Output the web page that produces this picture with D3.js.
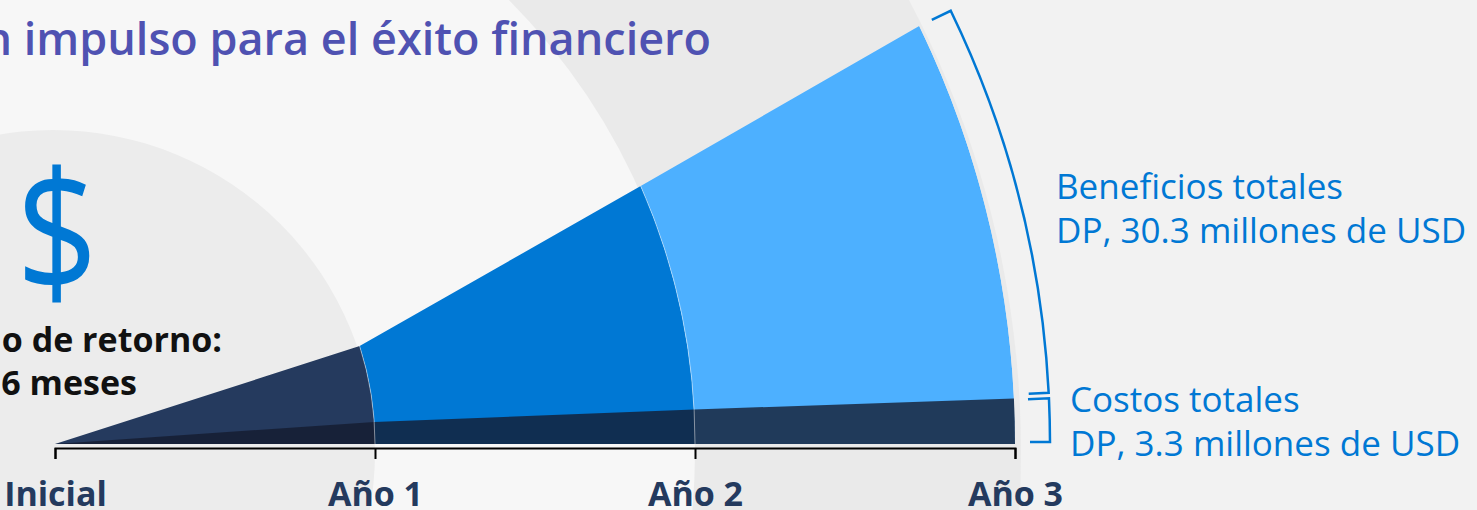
<!DOCTYPE html>
<html>
<head>
<meta charset="utf-8">
<script src="https://cdn.jsdelivr.net/npm/d3@7"></script>
<style>
  html, body { margin: 0; padding: 0; background: #f2f2f2; overflow: hidden; }
  text { font-family: "Open Sans", "Noto Sans", sans-serif; }
</style>
</head>
<body>
<div id="chart"></div>
<script>
// data (millones de USD, valor presente, acumulado)
const years = ["Inicial", "Año 1", "Año 2", "Año 3"]
const benefits = [0, 7.1, 18.7, 30.3]
const costs = [0, 1.6, 2.5, 3.3]
const bandColors = ["#253a5e", "#0078d4", "#4db0ff"]

const W = 1477, H = 510
const cx = 55, cy = 444   // apex of the wedge

const svg = d3.select("#chart").append("svg")
  .attr("width", W)
  .attr("height", H)

svg.append("rect").attr("width", W).attr("height", H).attr("fill", "#f2f2f2")

// background rings
const rings = [[968, "#eaeaea"], [642, "#f7f7f7"], [322, "#ececec"]]
svg.selectAll("circle.bg")
  .data(rings)
  .enter().append("circle")
  .attr("class", "bg")
  .attr("cx", 53).attr("cy", 452)
  .attr("r", d => d[0])
  .attr("fill", d => d[1])

// SCALES
const x = d3.scalePoint().domain(years).range([cx, cx + 960])
const rad = yr => x(yr) - cx
const hgt = d3.scaleLinear().domain([0, 30.3]).range([0, 418])

// point on the year's circle at the value's height
function pt(yr, v) {
  const r = rad(yr), h = hgt(v)
  return [cx + Math.sqrt(Math.max(r * r - h * h, 0)), cy - h]
}

function wedge(vals) {
  const p = d3.path()
  p.moveTo(cx, cy)
  years.forEach((yr, i) => { const q = pt(yr, vals[i]); p.lineTo(q[0], q[1]) })
  const rOut = rad(years[years.length - 1])
  const a = -Math.asin(hgt(vals[vals.length - 1]) / rOut)
  p.arc(cx, cy, rOut, a, 0, false)
  p.closePath()
  return p.toString()
}

// clip rings per year
const defs = svg.append("defs")
years.slice(1).forEach((yr, i) => {
  defs.append("clipPath").attr("id", "band" + i)
    .append("path")
    .attr("transform", `translate(${cx},${cy})`)
    .attr("d", d3.arc()({
      innerRadius: rad(years[i]), outerRadius: rad(yr),
      startAngle: 0, endAngle: 2 * Math.PI
    }))
})

const benefitPath = wedge(benefits)
svg.selectAll("path.benefit")
  .data(bandColors)
  .enter().append("path")
  .attr("class", "benefit")
  .attr("d", benefitPath)
  .attr("clip-path", (d, i) => `url(#band${i})`)
  .attr("fill", d => d)

// costs overlay
svg.append("path")
  .attr("d", wedge(costs))
  .attr("fill", "#141b2e")
  .attr("fill-opacity", 0.79)

// seams between years
years.slice(1, -1).forEach((yr, i) => {
  const r = rad(yr)
  const a = -Math.asin(hgt(benefits[i + 1]) / r)
  const p = d3.path()
  p.arc(cx, cy, r, a, 0, false)
  svg.append("path").attr("d", p.toString())
    .attr("fill", "none").attr("stroke", "#ffffff")
    .attr("stroke-opacity", 0.45).attr("stroke-width", 1)
})

// AXIS
const axis = svg.append("g")
  .attr("transform", `translate(0,448)`)
  .call(d3.axisBottom(x).tickSize(11).tickSizeOuter(11))
axis.selectAll("path, line").attr("stroke", "#000").attr("stroke-width", 2)
axis.selectAll("text")
  .attr("dy", null)
  .attr("y", 58)
  .style("font-size", "34px")
  .style("font-weight", "700")
  .style("font-family", '"Open Sans", sans-serif')
  .attr("fill", "#243a5e")

// brackets
const rB = 995
function bracket(h0, h1, hook0, hook1) {
  const a0 = -Math.asin(h0 / rB), a1 = -Math.asin(h1 / rB)
  const p = d3.path()
  p.moveTo(cx + (rB - hook0) * Math.cos(a0), cy + (rB - hook0) * Math.sin(a0))
  p.lineTo(cx + rB * Math.cos(a0), cy + rB * Math.sin(a0))
  p.arc(cx, cy, rB, a0, a1, false)
  p.lineTo(cx + (rB - hook1) * Math.cos(a1), cy + (rB - hook1) * Math.sin(a1))
  return p.toString()
}
const hTip = rB * hgt(benefits[3]) / 960
const hCost = rB * hgt(costs[3]) / 960
svg.append("path").attr("d", bracket(hTip, hCost + 4, 21, 20))
  .attr("fill", "none").attr("stroke", "#0078d4").attr("stroke-width", 2.5)
svg.append("path").attr("d", bracket(hCost - 1.5, 2, 21, 20))
  .attr("fill", "none").attr("stroke", "#0078d4").attr("stroke-width", 2.5)

const notes = [
  { x: 1056, y: 199, t: "Beneficios totales" },
  { x: 1056, y: 243, t: "DP, 30.3 millones de USD" },
  { x: 1070, y: 412, t: "Costos totales" },
  { x: 1070, y: 456, t: "DP, 3.3 millones de USD" }
]
svg.selectAll("text.note")
  .data(notes)
  .enter().append("text")
  .attr("class", "note")
  .attr("x", d => d.x).attr("y", d => d.y)
  .style("font-size", "35px")
  .attr("fill", "#0078d4")
  .text(d => d.t)

// title
svg.append("text")
  .attr("text-anchor", "end")
  .attr("x", 711).attr("y", 55)
  .style("font-size", "45px")
  .style("font-weight", "600")
  .attr("fill", "#4f52b2")
  .text("Un impulso para el éxito financiero")

// payback
svg.append("text")
  .attr("text-anchor", "middle")
  .attr("transform", "translate(57,293) scale(0.85,1)")
  .style("font-size", "168px")
  .attr("fill", "#0078d4")
  .text("$")

svg.append("text")
  .attr("text-anchor", "end")
  .attr("x", 222).attr("y", 352)
  .style("font-size", "34px").style("font-weight", "700")
  .attr("fill", "#111")
  .text("Período de retorno:")
svg.append("text")
  .attr("text-anchor", "end")
  .attr("x", 137).attr("y", 395)
  .style("font-size", "34px").style("font-weight", "700")
  .attr("fill", "#111")
  .text("< 6 meses")
</script>
</body>
</html>
